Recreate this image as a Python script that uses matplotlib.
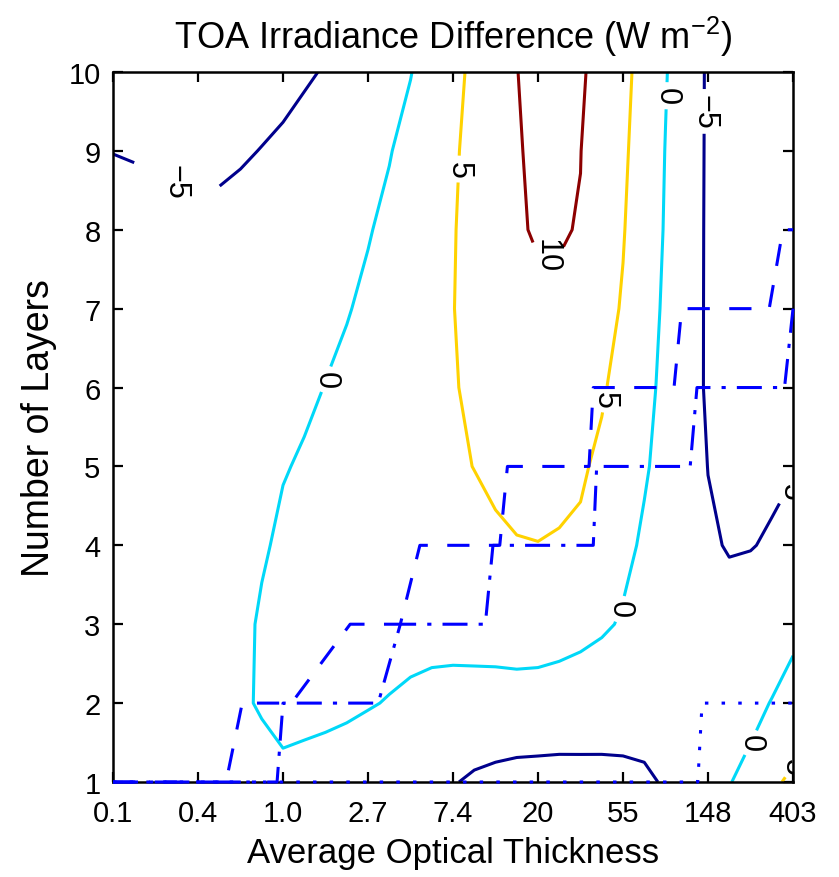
import matplotlib
matplotlib.use("Agg")
import matplotlib.pyplot as plt
import numpy as np

plt.rcParams['font.family'] = ['Liberation Sans', 'DejaVu Sans']
plt.rcParams['mathtext.fontset'] = 'custom'
plt.rcParams['mathtext.rm'] = 'Liberation Sans'
plt.rcParams['mathtext.it'] = 'Liberation Sans:italic'
plt.rcParams['mathtext.bf'] = 'Liberation Sans:bold'
plt.rcParams['lines.scale_dashes'] = False

# ---- data -------------------------------------------------------------
# x = ln(average optical thickness), y = number of layers
log_tau = [-2.0, -1.75, -1.5, -1.25, -1.0, -0.75, -0.5, -0.25, 0.0, 0.25, 0.5,
           0.75, 1.0, 1.25, 1.5, 1.75, 2.0, 2.25, 2.5, 2.75, 3.0, 3.25, 3.5,
           3.75, 4.0, 4.25, 4.5, 4.75, 5.0, 5.25, 5.5, 5.75, 6.0]
layers = [1, 2, 3, 4, 5, 6, 7, 8, 9, 10]

toa_L1 = [-2.0, -2.0, -2.0, -1.9, -1.8, -1.6, -1.4, -1.2, -0.75, -1.47, -2.21,
          -3.0, -3.94, -4.2, -4.4, -4.6, -4.8, -5.51, -5.96, -6.37, -6.45, -6.36,
          -6.09, -5.96, -5.79, -5.5, -4.72, -3.2, -1.68, -0.16, 1.17, 4.54, 5.5]
toa_L2 = [-2.2, -2.2, -2.15, -2.1, -1.9, -1.3, -0.45, 0.3, 1.0, 1.3, 1.3,
          1.0, 0.39, -0.31, -1.18, -1.88, -2.12, -2.13, -2.13, -1.96, -2.05, -2.48,
          -2.97, -3.22, -3.4, -3.5, -3.5, -3.3, -2.9, -2.2, -1.22, 0.17, 3.0]
toa_L3 = [-2.6, -2.6, -2.6, -2.55, -2.45, -2.2, -1.3, 0.61, 1.4, 1.9, 2.2,
          2.4, 2.5, 2.5, 2.4, 2.3, 2.3, 2.4, 2.5, 2.6, 2.5, 2.2,
          1.6, 0.66, -0.44, -1.4, -2.2, -2.8, -3.4, -3.87, -3.67, -2.6, -2.0]
toa_L4 = [-2.8, -2.8, -2.8, -2.75, -2.65, -2.4, -1.8, -0.55, 0.83, 1.5, 2.1,
          2.6, 3.0, 3.3, 3.55, 3.7, 3.8, 3.86, 4.30, 4.75, 4.88, 4.58,
          4.40, 2.73, 1.07, -0.60, -1.75, -3.0, -4.6, -5.2, -5.1, -4.74, -4.5]
toa_L5 = [-3.0, -3.0, -3.0, -3.0, -2.95, -2.8, -2.4, -1.33, -0.26, 0.44, 1.01,
          1.59, 2.17, 2.74, 3.32, 3.89, 4.47, 5.06, 5.86, 6.66, 7.3, 6.48,
          5.49, 4.24, 2.35, 0.45, -1.40, -3.24, -5.05, -5.6, -5.7, -5.48, -5.09]
toa_L6 = [-3.3, -3.3, -3.35, -3.4, -3.4, -3.35, -3.2, -2.38, -1.55, -0.73, 0.09,
          0.87, 1.64, 2.41, 3.19, 3.96, 4.74, 5.69, 6.72, 7.76, 8.8, 7.68,
          6.56, 5.45, 3.58, 1.23, -1.03, -3.19, -5.5, -5.85, -6.2, -6.6, -6.9]
toa_L7 = [-3.6, -3.6, -3.65, -3.7, -3.75, -3.75, -3.6, -2.92, -2.25, -1.57, -0.89,
          -0.22, 0.71, 1.76, 2.82, 3.87, 4.92, 6.07, 7.23, 8.39, 9.62, 9.51,
          7.94, 6.38, 4.67, 1.96, -0.69, -3.14, -5.5, -5.9, -6.4, -6.9, -7.4]
toa_L8 = [-3.9, -3.9, -3.9, -4.0, -4.1, -4.2, -4.3, -3.62, -2.94, -2.27, -1.60,
          -0.92, -0.24, 0.84, 2.16, 3.47, 4.79, 6.25, 7.74, 9.80, 10.18, 10.23,
          9.85, 7.22, 5.24, 2.5, -0.33, -3.04, -5.5, -6.0, -6.6, -7.2, -7.8]
toa_L9 = [-5.046, -5.194, -5.428, -5.667, -5.798, -5.655, -5.209, -4.948, -4.71, -3.8, -2.9,
          -2.0, -1.1, -0.2, 1.23, 2.86, 4.48, 6.2, 7.96, 9.72, 10.7, 10.88,
          10.06, 7.95, 5.71, 2.93, -0.11, -2.83, -5.5, -6.1, -6.8, -7.5, -8.2]
toa_L10 = [-8.0, -7.69, -7.38, -7.07, -6.76, -6.44, -6.13, -5.82, -5.51, -5.4, -4.78,
           -3.62, -2.46, -1.30, -0.14, 1.80, 3.85, 5.89, 7.90, 9.92, 11.23, 11.57,
           10.48, 8.63, 6.18, 3.38, 0.25, -2.61, -5.5, -6.3, -7.1, -7.9, -8.7]

levels = [-5, 0, 5, 10]
level_colors = ['#00008C', '#00D8F8', '#FFD200', '#8C0000']

tick_pos = [-2, -1, 0, 1, 2, 3, 4, 5, 6]
tick_labels = ['0.1', '0.4', '1.0', '2.7', '7.4', '20', '55', '148', '403']

# staircase curves (ln tau, number of layers)
dashed_x = [-2.0, -0.67, -0.48, 0.10, 0.79, 1.38, 1.61, 2.55, 2.64, 3.60, 3.65,
            4.60, 4.69, 5.72, 5.88, 6.0]
dashed_n = [1, 1, 2, 2, 3, 3, 4, 4, 5, 5, 6, 6, 7, 7, 8, 8]
dashdot_x = [-2.0, -0.07, 0.0, 1.12, 1.38, 2.38, 2.47, 3.65, 3.69, 4.79, 4.87,
             5.90, 6.0]
dashdot_n = [1, 1, 2, 2, 3, 3, 4, 4, 5, 5, 6, 6, 7]
dotted_x = [-2.0, 4.88, 4.93, 6.0]
dotted_n = [1, 1, 2, 2]

label_pos_wide = [(-1.27, 8.6)]
label_pos = [(0.52, 6.1), (2.05, 8.77), (3.1, 7.65), (4.48, 9.7), (4.94, 9.5),
             (3.8, 5.85), (3.95, 3.2), (5.93, 4.8), (5.5, 1.5), (5.95, 1.3)]

# ---- figure -----------------------------------------------------------
Z = np.array([toa_L1, toa_L2, toa_L3, toa_L4, toa_L5, toa_L6, toa_L7,
              toa_L8, toa_L9, toa_L10])

fig = plt.figure(figsize=(8.39, 8.78), dpi=100)
ax = fig.add_axes([0.1347, 0.1082, 0.8105, 0.8087])

cs = ax.contour(log_tau, layers, Z, levels=levels, colors=level_colors,
                linewidths=2.2)

fmt = {-5: '\u22125', 0: '0', 5: '5', 10: '10'}
t1 = cs.clabel(inline=True, fmt=fmt, fontsize=22, colors='k',
               manual=label_pos_wide, inline_spacing=28)
t1 = list(t1)
t2 = cs.clabel(inline=True, fmt=fmt, fontsize=22, colors='k',
               manual=label_pos, inline_spacing=5)
for t in list(t1) + list(t2):
    t.set_rotation(270)

ax.plot(dotted_x, dotted_n, color='#0000FF', lw=2.2, dashes=[2.5, 9.5],
        zorder=4, clip_on=False)
ax.plot(dashdot_x, dashdot_n, color='#0000FF', lw=2.2, dashes=[18, 8, 3, 8],
        zorder=4, clip_on=False)
ax.plot(dashed_x, dashed_n, color='#0000FF', lw=2.2, dashes=[16, 14],
        zorder=4, clip_on=False)

ax.set_xlim(-2, 6)
ax.set_ylim(1, 10)
ax.set_xticks(tick_pos)
ax.set_xticklabels(tick_labels)
ax.set_yticks(layers)
ax.tick_params(direction='in', length=7, width=1.6, labelsize=21,
               top=True, right=True)
ax.tick_params(axis='x', pad=12)
ax.tick_params(axis='y', pad=9)
for s in ax.spines.values():
    s.set_linewidth(1.8)
    s.set_zorder(3)

ax.set_title('TOA Irradiance Difference (W m$^{-2}$)', fontsize=26, pad=17)
ax.set_xlabel('Average Optical Thickness', fontsize=25, labelpad=7)
ax.set_ylabel('Number of Layers', fontsize=27, labelpad=8)

fig.savefig('out.png', dpi=100)
